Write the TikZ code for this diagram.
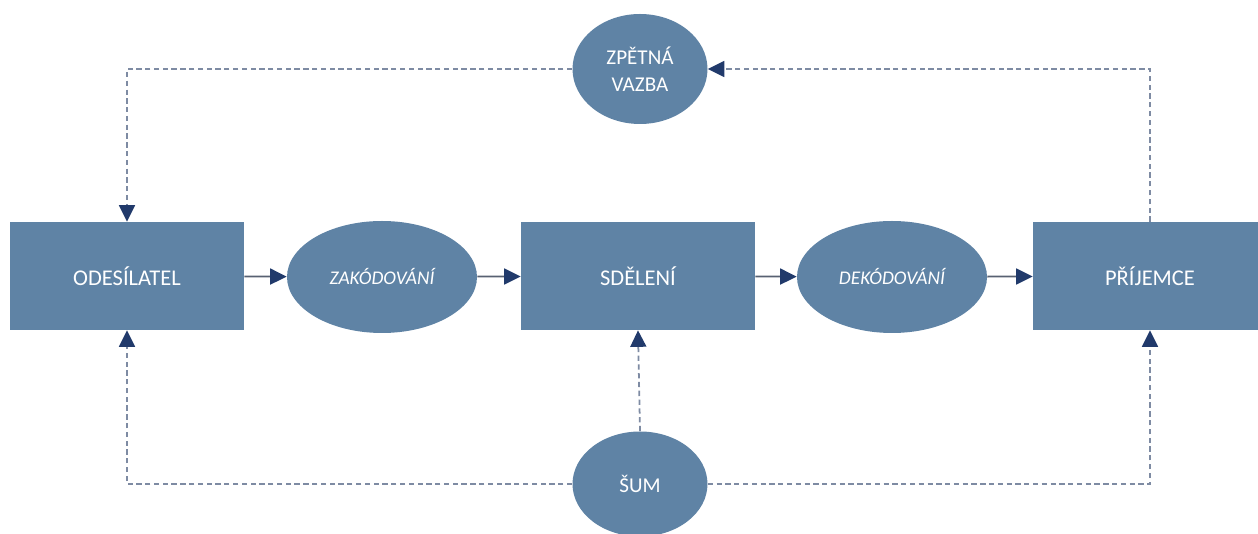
\documentclass[tikz,border=0pt]{standalone}
\usepackage{fontspec}
\setmainfont{Carlito}
\usetikzlibrary{arrows.meta,shapes.geometric}
\definecolor{boxblue}{HTML}{5F83A5}
\definecolor{tipnavy}{HTML}{213A6B}
\definecolor{linegray}{HTML}{7E8BA3}
\def\tip{{Triangle[length=3.3mm,width=3.2mm,color=tipnavy]}}

\begin{document}
\begin{tikzpicture}[
  box/.style={rectangle, fill=boxblue, text=white, inner sep=0pt,
    minimum width=4.68cm, minimum height=2.16cm, font=\fontsize{12.8}{14}\selectfont},
  oval/.style={ellipse, fill=boxblue, text=white, inner sep=0pt,
    minimum width=3.8cm, minimum height=2.24cm, font=\itshape\fontsize{11}{13}\selectfont},
  round/.style={ellipse, fill=boxblue, text=white, inner sep=0pt, align=center,
    minimum width=2.7cm, minimum height=2.2cm, font=\fontsize{12}{15.5}\selectfont},
  flow/.style={draw=linegray!70!black, line width=1pt, -\tip},
  loop/.style={draw=linegray, line width=1pt, dash pattern=on 3pt off 2pt, -\tip}]
\useasboundingbox (0,0) rectangle (25.16,10.68);

% main chain
\node[box]  (odes) at (2.54,5.16)  {ODESÍLATEL};
\node[oval] (zak)  at (7.64,5.14)  {ZAKÓDOVÁNÍ};
\node[box]  (sdel) at (12.76,5.16) {SDĚLENÍ};
\node[oval] (dek)  at (17.84,5.14) {DEKÓDOVÁNÍ};
\node[box]  (prij) at (23.0,5.16)  {PŘÍJEMCE};

\node[round] (zpet) at (12.8,9.3) {ZPĚTNÁ\\VAZBA};
\node[round, minimum height=2.1cm] (sum) at (12.8,1.0) {ŠUM};

\draw[flow] (odes) -- (zak);
\draw[flow] (zak) -- (sdel);
\draw[flow] (sdel) -- (dek);
\draw[flow] (dek) -- (prij);

% feedback
\draw[loop] (prij.north) |- (zpet.east);
\draw[loop] (zpet.west) -| (odes.north);

% noise
\draw[loop] (sum.west) -| (odes.south);
\draw[loop] (sum.north) -- (sdel.south);
\draw[loop] (sum.east) -| (prij.south);
\end{tikzpicture}
\end{document}
